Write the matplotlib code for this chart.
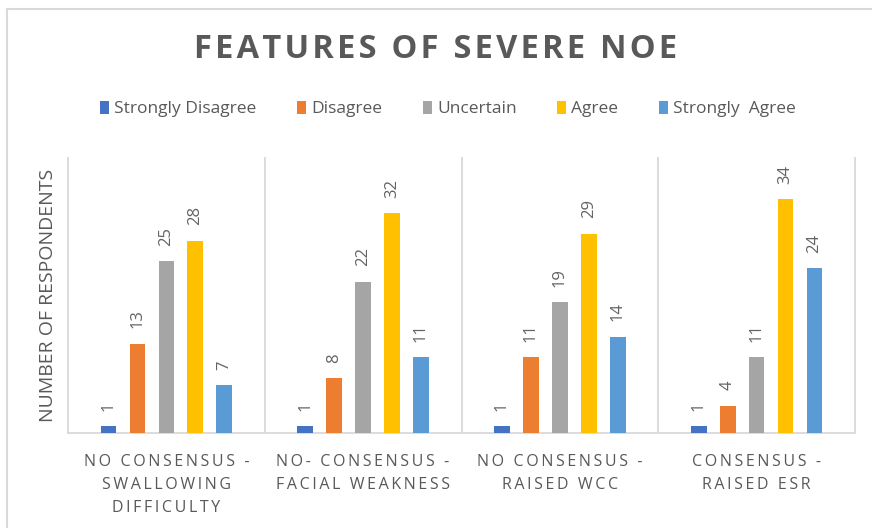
import matplotlib
matplotlib.use("Agg")
import matplotlib.pyplot as plt
import numpy as np
from matplotlib.patches import Patch
from matplotlib.lines import Line2D

categories = ["NO CONSENSUS -\nSWALLOWING\nDIFFICULTY",
              "NO- CONSENSUS -\nFACIAL WEAKNESS",
              "NO CONSENSUS -\nRAISED WCC",
              "CONSENSUS -\nRAISED ESR"]
series_names = ["Strongly Disagree", "Disagree", "Uncertain", "Agree", "Strongly  Agree"]
strongly_disagree = [1, 1, 1, 1]
disagree = [13, 8, 11, 4]
uncertain = [25, 22, 19, 11]
agree = [28, 32, 29, 34]
strongly_agree = [7, 11, 14, 24]
series_values = [strongly_disagree, disagree, uncertain, agree, strongly_agree]
colors = ["#4472C4", "#ED7D31", "#A5A5A5", "#FFC000", "#5B9BD5"]

TXT = "#595959"
GRID = "#D9D9D9"

plt.rcParams['font.family'] = ['Open Sans', 'DejaVu Sans']

fig = plt.figure(figsize=(8.72, 5.28), dpi=100)
ax = fig.add_axes([68/872, 1-433/528, (855-68)/872, (433-158)/528])

x = np.arange(len(categories))
spacing = 0.147
width = 0.08
for i, (vals, col) in enumerate(zip(series_values, colors)):
    pos = x + (i - 2) * spacing
    bars = ax.bar(pos, vals, width=width, color=col, zorder=3)
    for b, v in zip(bars, vals):
        ax.annotate(str(v), (b.get_x() + b.get_width()/2, v), xytext=(0, 11),
                    textcoords="offset points", rotation=90, ha="center", va="bottom",
                    fontsize=12, color="#646464")

ax.set_xlim(-0.5, 3.5)
ax.set_ylim(0, 40)
for s in ["top", "right"]:
    ax.spines[s].set_visible(False)
for s in ["left", "bottom"]:
    ax.spines[s].set_color(GRID)
    ax.spines[s].set_linewidth(1.3)
for b in [0.5, 1.5, 2.5, 3.5]:
    ax.axvline(b, color=GRID, lw=1.3, zorder=1, clip_on=False)
ax.set_yticks([])
ax.set_xticks(x)
spaced = ["\n".join("\u2009".join(line) for line in c.split("\n")) for c in categories]
ax.set_xticklabels(spaced, fontsize=11.5, color=TXT, linespacing=1.6)
ax.tick_params(axis='x', length=0, pad=15)
ax.set_ylabel("NUMBER OF RESPONDENTS", fontsize=14, color=TXT, va="center")
ax.yaxis.set_label_coords((48-68)/787, 0.5)

fig.text(0.5, 1-49/528, "\u200a".join("FEATURES OF SEVERE NOE"), ha="center", va="center",
         fontsize=23.5, fontweight="bold", color=TXT)

handles = [Patch(facecolor=c, edgecolor='none') for c in colors]
fig.legend(handles, series_names, loc="center", bbox_to_anchor=(448/872, 1-109/528),
           ncol=5, frameon=False, fontsize=12.5, labelcolor=TXT,
           handlelength=0.5, handleheight=0.85, handletextpad=0.3, columnspacing=2.35)

# chart border
fig.add_artist(Line2D([7/872, 1], [1-9/528, 1-9/528], color=GRID, lw=1.5))
fig.add_artist(Line2D([7/872, 7/872], [0, 1-9/528], color=GRID, lw=1.5))

fig.savefig("out.png", dpi=100)
